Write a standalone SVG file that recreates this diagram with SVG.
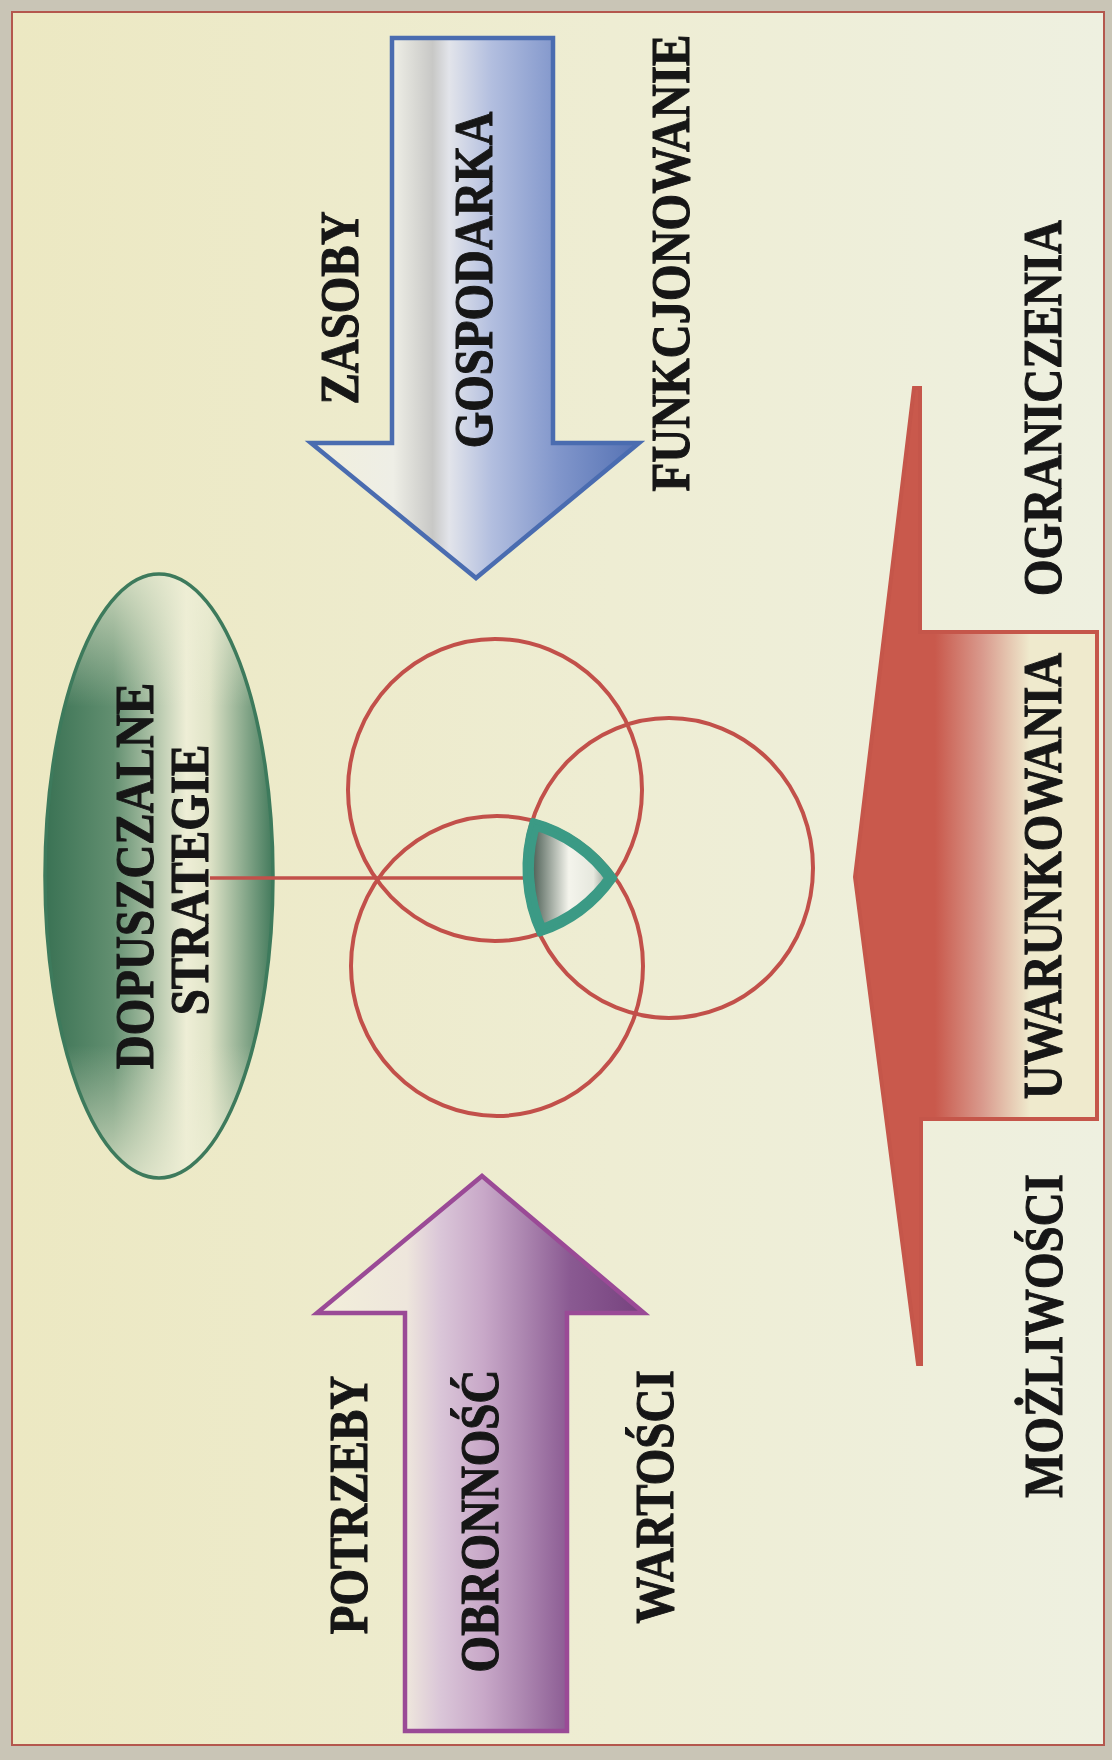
<svg xmlns="http://www.w3.org/2000/svg" width="1112" height="1760" viewBox="0 0 1112 1760">
<defs>
<style>
.lbl{font-family:"Liberation Serif","Times New Roman",serif;font-weight:bold;font-size:47px;fill:#161616;stroke:#161616;stroke-width:0.9;text-anchor:middle}
.circ{fill:none;stroke:#c2504a;stroke-width:4}
</style>
<linearGradient id="pageG" x1="0" y1="0" x2="1" y2="0">
<stop offset="0" stop-color="#ece8c2"/>
<stop offset="0.55" stop-color="#eeedd3"/>
<stop offset="1" stop-color="#eef0e0"/>
</linearGradient>
<linearGradient id="blueG" gradientUnits="userSpaceOnUse" x1="311" y1="0" x2="640" y2="0">
<stop offset="0" stop-color="#f1efdc"/>
<stop offset="0.25" stop-color="#eeeee6"/>
<stop offset="0.37" stop-color="#c8c8c6"/>
<stop offset="0.42" stop-color="#e2e4ea"/>
<stop offset="0.55" stop-color="#b2bedf"/>
<stop offset="0.75" stop-color="#8196cb"/>
<stop offset="1" stop-color="#5471b3"/>
</linearGradient>
<linearGradient id="purpG" gradientUnits="userSpaceOnUse" x1="317" y1="0" x2="650" y2="0">
<stop offset="0" stop-color="#f2efda"/>
<stop offset="0.27" stop-color="#eee6dc"/>
<stop offset="0.37" stop-color="#dac6d8"/>
<stop offset="0.5" stop-color="#c8a8c8"/>
<stop offset="0.62" stop-color="#ac86b0"/>
<stop offset="0.76" stop-color="#8a5a92"/>
<stop offset="1" stop-color="#74407c"/>
</linearGradient>
<linearGradient id="redG" gradientUnits="userSpaceOnUse" x1="935" y1="0" x2="1030" y2="0">
<stop offset="0" stop-color="#c9594c"/>
<stop offset="0.5" stop-color="#d99a8d"/>
<stop offset="1" stop-color="#efeacd"/>
</linearGradient>
<linearGradient id="greenG" gradientUnits="userSpaceOnUse" x1="45" y1="0" x2="273" y2="0">
<stop offset="0" stop-color="#3a7254"/>
<stop offset="0.3" stop-color="#628f70"/>
<stop offset="0.62" stop-color="#eeeed6"/>
<stop offset="0.72" stop-color="#e0e4c8"/>
<stop offset="1" stop-color="#437a5c"/>
</linearGradient>
<linearGradient id="greenV" x1="0" y1="0" x2="0" y2="1">
<stop offset="0" stop-color="#eeeed4" stop-opacity="0.75"/>
<stop offset="0.22" stop-color="#eeeed4" stop-opacity="0"/>
<stop offset="0.78" stop-color="#eeeed4" stop-opacity="0"/>
<stop offset="1" stop-color="#eeeed4" stop-opacity="0.75"/>
</linearGradient>
<linearGradient id="triG" gradientUnits="userSpaceOnUse" x1="532" y1="0" x2="614" y2="0">
<stop offset="0" stop-color="#4c5e54"/>
<stop offset="0.45" stop-color="#f4f4ec"/>
<stop offset="0.75" stop-color="#e6e8de"/>
<stop offset="1" stop-color="#6a7a70"/>
</linearGradient>
<clipPath id="triClip">
<path d="M532.5,820.5 A146,150 0 0 1 614.8,878 A147,151 0 0 1 539.5,934.2 A144,150 0 0 1 532.5,820.5 Z"/>
</clipPath>
</defs>

<g id="page">
<rect x="0" y="0" width="1112" height="1760" fill="#c9c5b6"/>
<rect x="12" y="12" width="1092" height="1733" fill="url(#pageG)" stroke="#b4574d" stroke-width="2"/>
</g>

<g id="node-zasoby">
<polygon points="392,38 553,38 553,443 639,443 476,578 311,443 392,443" fill="url(#blueG)" stroke="#4a6cb0" stroke-width="4.5"/>
<text class="lbl" transform="translate(358,308) rotate(-90) scale(1,1.15)">ZASOBY</text>
<text class="lbl" transform="translate(492,280) rotate(-90) scale(1,1.15)">GOSPODARKA</text>
<text class="lbl" transform="translate(689,263) rotate(-90) scale(1,1.15)">FUNKCJONOWANIE</text>
</g>

<g id="node-potrzeby">
<polygon points="405,1731 567,1731 567,1313 644,1313 482,1176 317,1313 405,1313" fill="url(#purpG)" stroke="#9a4a96" stroke-width="4.5"/>
<text class="lbl" transform="translate(367,1505) rotate(-90) scale(1,1.15)">POTRZEBY</text>
<text class="lbl" transform="translate(498,1521) rotate(-90) scale(1,1.15)">OBRONNOŚĆ</text>
<text class="lbl" transform="translate(673,1497) rotate(-90) scale(1,1.15)">WARTOŚCI</text>
</g>

<g id="node-uwarunkowania">
<path d="M914,388 L920,388 L920,632 L1097,632 L1097,1119 L921,1119 L921,1364 L918,1364 L855,877 Z" fill="url(#redG)" stroke="#c5564a" stroke-width="4"/>
<text class="lbl" transform="translate(1061,408) rotate(-90) scale(1,1.15)">OGRANICZENIA</text>
<text class="lbl" transform="translate(1061,876) rotate(-90) scale(1,1.15)">UWARUNKOWANIA</text>
<text class="lbl" transform="translate(1062,1336) rotate(-90) scale(1,1.15)">MOŻLIWOŚCI</text>
</g>

<g id="node-strategie">
<ellipse cx="159" cy="876" rx="114" ry="302" fill="url(#greenG)"/>
<ellipse cx="159" cy="876" rx="114" ry="302" fill="url(#greenV)" stroke="#3d7a5c" stroke-width="3.5"/>
<text class="lbl" transform="translate(153,876) rotate(-90) scale(1,1.15)">DOPUSZCZALNE</text>
<text class="lbl" transform="translate(208,880) rotate(-90) scale(1,1.15)">STRATEGIE</text>
</g>

<g id="node-circles">
<ellipse class="circ" cx="495" cy="790" rx="147" ry="151"/>
<ellipse class="circ" cx="497" cy="966" rx="146" ry="150"/>
<ellipse class="circ" cx="669" cy="868" rx="144" ry="150"/>
</g>

<g id="connectors">
<line x1="210" y1="878" x2="533" y2="878" stroke="#c2504a" stroke-width="3.5"/>
</g>

<g id="node-intersection">
<path d="M532.5,820.5 A146,150 0 0 1 614.8,878 A147,151 0 0 1 539.5,934.2 A144,150 0 0 1 532.5,820.5 Z" fill="url(#triG)" stroke="#3b9a85" stroke-width="18" clip-path="url(#triClip)"/>
<path d="M532.5,820.5 A146,150 0 0 1 614.8,878 A147,151 0 0 1 539.5,934.2 A144,150 0 0 1 532.5,820.5 Z" fill="none" stroke="#3b9a85" stroke-width="5" stroke-linejoin="round"/>
</g>
</svg>
